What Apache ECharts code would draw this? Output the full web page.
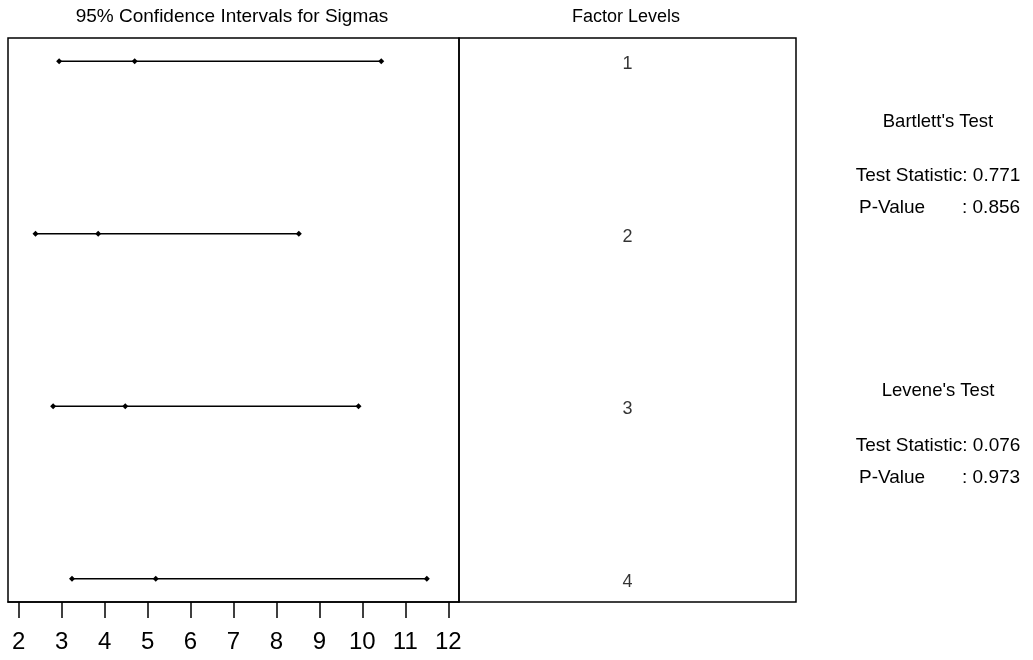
<!DOCTYPE html>
<html>
<head>
<meta charset="utf-8">
<script src="https://cdn.jsdelivr.net/npm/echarts@6/dist/echarts.min.js"></script>
<style>html,body{margin:0;padding:0;background:#fff}#c{width:1033px;height:660px}</style>
</head>
<body>
<div id="c"></div>
<script>
// ---- data ----
const levels = ['1', '2', '3', '4'];
const lowerCI = [2.94, 2.39, 2.80, 3.24];
const sigmaEst = [4.70, 3.85, 4.48, 5.19];
const upperCI = [10.44, 8.52, 9.91, 11.50];
const xTicks = [2, 3, 4, 5, 6, 7, 8, 9, 10, 11, 12];
const leftTitle = '95% Confidence Intervals for Sigmas';
const rightTitle = 'Factor Levels';
const bartlett = { title: "Bartlett's Test", stat: '0.771', p: '0.856' };
const levene = { title: "Levene's Test", stat: '0.076', p: '0.973' };

const FONT = '"Liberation Sans", Arial, sans-serif';
const chart = echarts.init(document.getElementById('c'), null, { renderer: 'canvas' });

const intervalSeries = levels.map((lv, i) => ({
  type: 'line',
  xAxisIndex: 0, yAxisIndex: 0,
  data: [[lowerCI[i], i + 1], [sigmaEst[i], i + 1], [upperCI[i], i + 1]],
  symbol: 'diamond', symbolSize: 6,
  itemStyle: { color: '#000' },
  lineStyle: { color: '#000', width: 1.5 },
  silent: true
}));

const labelSeries = {
  type: 'scatter',
  xAxisIndex: 1, yAxisIndex: 1,
  symbolSize: 0,
  data: levels.map((lv, i) => [0.5, i + 1]),
  label: {
    show: true, position: 'inside', offset: [0, 3],
    formatter: p => levels[p.dataIndex],
    color: '#000', fontSize: 18, fontFamily: FONT
  },
  silent: true
};

function txt(x, y, text, align, size) {
  return { type: 'text', x: x, y: y, silent: true,
    style: { text: text, fill: '#000', font: size + 'px ' + FONT, align: align || 'center', verticalAlign: 'middle' } };
}

chart.setOption({
  animation: false,
  backgroundColor: '#fff',
  grid: [
    { left: 8, top: 38, width: 451, height: 564, show: true, borderColor: '#000', borderWidth: 1.5, containLabel: false },
    { left: 459, top: 38, width: 337, height: 564, show: true, borderColor: '#000', borderWidth: 1.5, containLabel: false }
  ],
  xAxis: [
    { type: 'value', gridIndex: 0, min: 1.75, max: 12.25,
      axisLine: { show: true, lineStyle: { color: '#000', width: 1.5 } },
      axisTick: { show: true, inside: false, length: 16, customValues: xTicks, lineStyle: { color: '#000', width: 1.5 } },
      axisLabel: { show: true, customValues: xTicks, margin: 28, fontSize: 24, color: '#000', fontFamily: FONT },
      splitLine: { show: false } },
    { type: 'value', gridIndex: 1, min: 0, max: 1, show: false }
  ],
  yAxis: [
    { type: 'value', gridIndex: 0, min: 0.865, max: 4.135, inverse: true, show: false },
    { type: 'value', gridIndex: 1, min: 0.865, max: 4.135, inverse: true, show: false }
  ],
  series: intervalSeries.concat([labelSeries]),
  graphic: [
    txt(232, 17, leftTitle, 'center', 19),
    txt(626, 17, rightTitle, 'center', 18),
    txt(938, 122, bartlett.title, 'center', 18.5),
    txt(938, 176, 'Test Statistic: ' + bartlett.stat, 'center', 19),
    txt(859, 208, 'P-Value', 'left', 19),
    txt(962, 208, ': ' + bartlett.p, 'left', 19),
    txt(938, 391, levene.title, 'center', 18.5),
    txt(938, 446, 'Test Statistic: ' + levene.stat, 'center', 19),
    txt(859, 478, 'P-Value', 'left', 19),
    txt(962, 478, ': ' + levene.p, 'left', 19)
  ]
});
</script>
</body>
</html>
